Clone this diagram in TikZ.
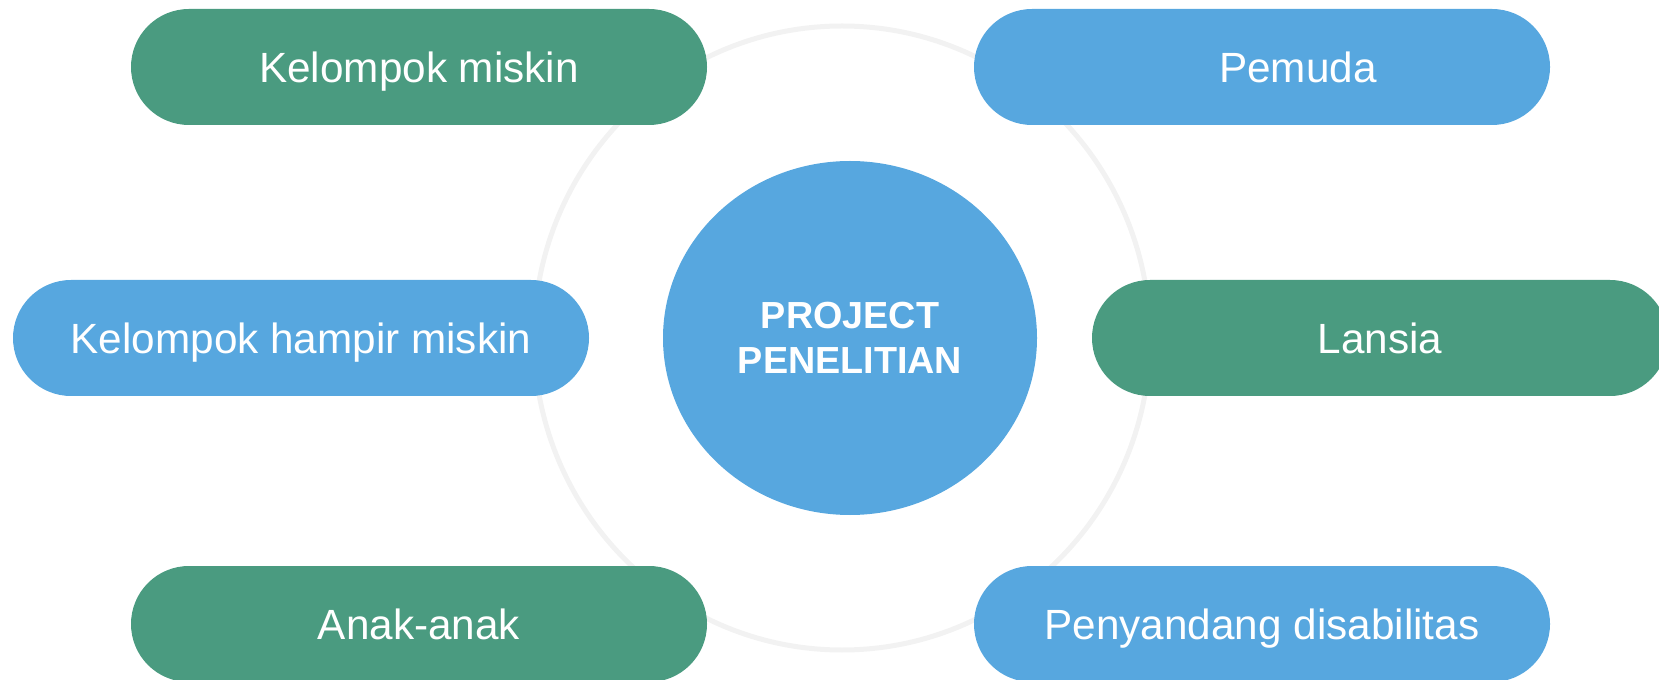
\documentclass[tikz,border=0pt]{standalone}
\usepackage{fontspec}
\setmainfont{Liberation Sans}
\usetikzlibrary{shapes.geometric}
\definecolor{pillgreen}{RGB}{74,155,128}
\definecolor{pillblue}{RGB}{87,167,223}
\definecolor{ringgray}{RGB}{242,242,242}
\begin{document}
\begin{tikzpicture}[x=0.75pt,y=-0.75pt,
  pill/.style={rectangle, rounded corners=43.5pt, minimum width=432pt, minimum height=87pt,
    inner sep=0pt, text height=22.7pt, text depth=0pt, text=white, font=\fontsize{31.7}{38}\selectfont},
  greenpill/.style={pill, fill=pillgreen},
  bluepill/.style={pill, fill=pillblue},
  ringshape/.style={ellipse, draw=ringgray, line width=3.75pt, minimum width=462pt, minimum height=468pt, inner sep=0pt},
  hub/.style={ellipse, fill=pillblue, minimum width=280.5pt, minimum height=265.5pt, inner sep=0pt,
    text=white, align=center, font=\bfseries\fontsize{28.3}{33.75}\selectfont}]
\useasboundingbox (0,0) rectangle (1659,680);
\node[ringshape] (ring) at (842,338) {};
\node[hub] (hub) at (850,338) {PROJECT\\PENELITIAN};
\node[greenpill] (miskin) at (419,67) {Kelompok miskin};
\node[bluepill] (pemuda) at (1262,67) {\hspace*{54pt}Pemuda};
\node[bluepill] (hampir) at (301,338) {Kelompok hampir miskin};
\node[greenpill] (lansia) at (1380,338) {Lansia};
\node[greenpill] (anak) at (419,624) {Anak-anak};
\node[bluepill] (disab) at (1262,624) {Penyandang disabilitas};
\end{tikzpicture}
\end{document}
